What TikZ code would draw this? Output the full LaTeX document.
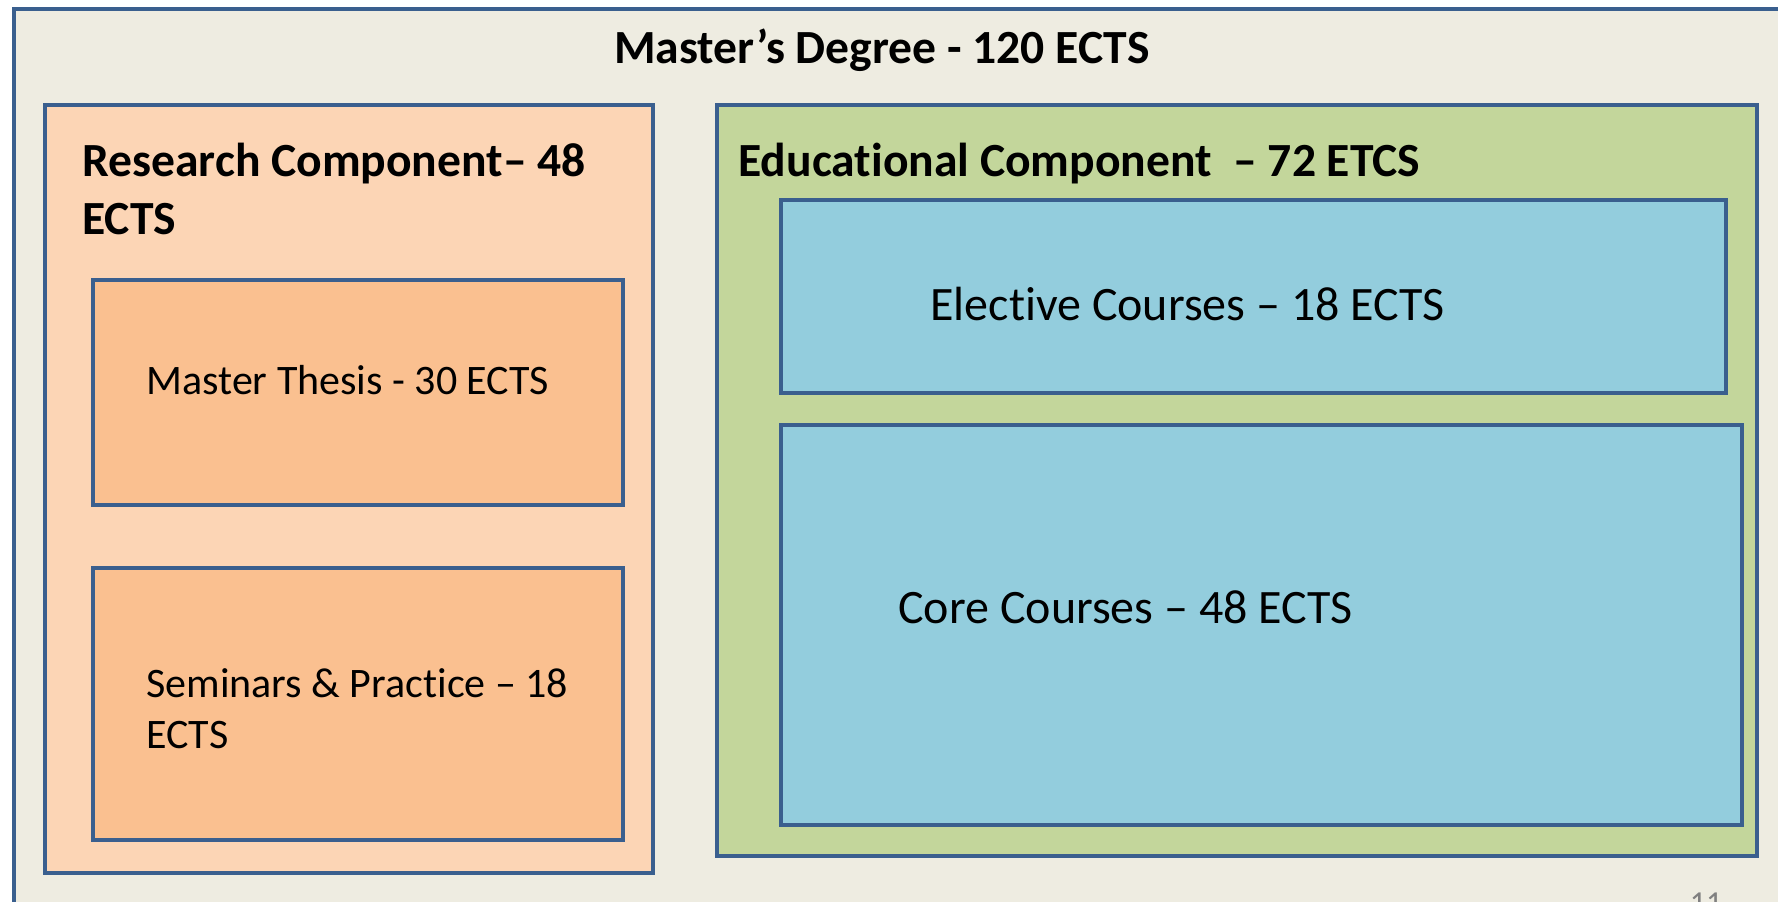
\documentclass[tikz,border=0pt]{standalone}
\usepackage{fontspec}
\setmainfont{Carlito}[Ligatures={TeX,NoCommon}]
\usepackage{xcolor}
\definecolor{pagebg}{HTML}{EEECE1}
\definecolor{edgeblue}{HTML}{3A5F8E}
\definecolor{peach}{HTML}{FCD5B5}
\definecolor{orangebox}{HTML}{FAC090}
\definecolor{greenbox}{HTML}{C3D69B}
\definecolor{bluebox}{HTML}{93CDDD}

\tikzset{
  frame/.style={draw=edgeblue,line width=2.2pt},
  head/.style={font=\bfseries\fontsize{23.8}{29}\selectfont,inner sep=0pt,align=left},
  item/.style={font=\fontsize{21}{25.5}\selectfont,inner sep=0pt,align=left},
  bigitem/.style={font=\fontsize{24}{28}\selectfont,inner sep=0pt}
}

\begin{document}
\begin{tikzpicture}[x=0.5pt,y=-0.5pt]
\useasboundingbox (0,0) rectangle (1778,901);
\fill[white] (0,0) rectangle (1778,901);

% outer frame
\draw[frame,fill=pagebg] (14,9) rectangle (1800,940);
\draw(882,63) node[head,anchor=base](title){Master’s Degree - 120 ECTS};

% research part
\draw[frame,fill=peach] (45,105) rectangle (653,873);
\draw(82,234) node[head,anchor=base west](research){Research Component– 48\\ECTS};
\draw[frame,fill=orangebox] (93,280) rectangle (623,505);
\draw(146,394) node[item,anchor=base west](thesis){Master Thesis - 30 ECTS};
\draw[frame,fill=orangebox] (93,568) rectangle (623,840);
\draw(146,748) node[item,anchor=base west](seminars){Seminars \& Practice – 18\\ECTS};

% educational part
\draw[frame,fill=greenbox] (717,105) rectangle (1757,856);
\draw(738,176) node[head,anchor=base west](educ){Educational Component \ – 72 ETCS};
\draw[frame,fill=bluebox] (781,200) rectangle (1726,393);
\draw(930,320) node[bigitem,anchor=base west](elective){Elective Courses – 18 ECTS};
\draw[frame,fill=bluebox] (781,425) rectangle (1742,825);
\draw(898,623) node[bigitem,anchor=base west](core){Core Courses – 48 ECTS};

\draw(1706,913) node[anchor=base,text=gray,font=\fontsize{16}{18}\selectfont](pagenum){11};

\end{tikzpicture}
\end{document}
